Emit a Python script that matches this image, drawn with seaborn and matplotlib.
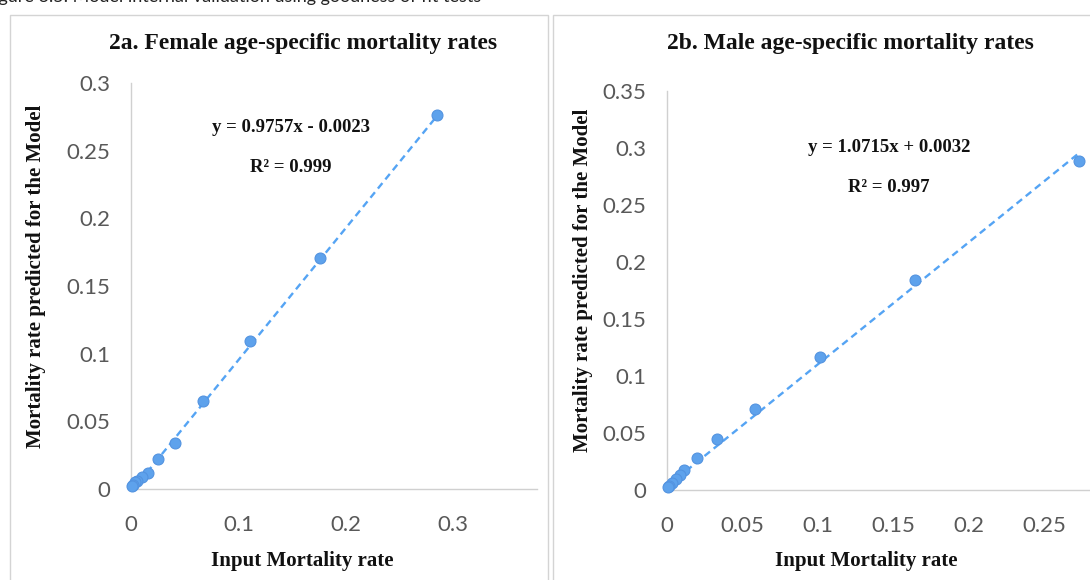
import numpy as np
import pandas as pd
import matplotlib
matplotlib.use("Agg")
import matplotlib.pyplot as plt
from matplotlib.patches import Rectangle
import seaborn as sns

# ---------------- data ----------------
female_input = [0.285, 0.176, 0.111, 0.067, 0.041, 0.025, 0.016, 0.010, 0.006, 0.004, 0.002, 0.001]
female_pred = [0.276, 0.171, 0.109, 0.065, 0.034, 0.022, 0.012, 0.009, 0.006, 0.005, 0.003, 0.002]
male_input = [0.273, 0.164, 0.101, 0.058, 0.033, 0.020, 0.011, 0.0085, 0.006, 0.0035, 0.0015, 0.0005]
male_pred = [0.289, 0.184, 0.117, 0.071, 0.045, 0.028, 0.0175, 0.013, 0.0095, 0.006, 0.0035, 0.0025]
trend_slope = [0.9757, 1.0715]
trend_intercept = [-0.0023, 0.0032]
trend_labels = ["y = 0.9757x - 0.0023", "y = 1.0715x + 0.0032"]
r2_labels = ["R² = 0.999", "R² = 0.997"]
titles = ["2a. Female age-specific mortality rates", "2b. Male age-specific mortality rates"]
xticks_f = [0, 0.1, 0.2, 0.3]
yticks_f = [0, 0.05, 0.1, 0.15, 0.2, 0.25, 0.3]
xticks_m = [0, 0.05, 0.1, 0.15, 0.2, 0.25]
yticks_m = [0, 0.05, 0.1, 0.15, 0.2, 0.25, 0.3, 0.35]
caption = "Figure 3.5. Model internal validation using goodness of fit tests"

# ---------------- style ----------------
sns.set_theme(style="white")
plt.rcParams["font.family"] = ["Lato", "DejaVu Sans"]

W, H = 1090, 580
fig = plt.figure(figsize=(W / 100, H / 100), dpi=100)

def fx(px):
    return px / W

def fy(py):
    return 1 - py / H

# panel borders
for x0, x1 in [(10, 548), (553, 1200)]:
    fig.patches.append(Rectangle((fx(x0), fy(700)), fx(x1 - x0), fy(15) - fy(700),
                                 transform=fig.transFigure, fill=False,
                                 edgecolor="#d4d4d4", linewidth=1.0, zorder=0))

# caption (cut off at top, as in the source page)
fig.text(fx(-16), fy(2), caption, fontsize=13, color="#222222",
         family=["Lato", "DejaVu Sans"], va="baseline", ha="left")

marker_col = "#5ea2ec"
edge_col = "#5393e0"
line_col = "#55a4f4"
serif = ["Liberation Serif", "DejaVu Serif"]

panels = [
    dict(x=female_input, y=female_pred, rect=(131, 83, 537, 489), xlim=(0, 0.378), ylim=(0, 0.3),
         xt=xticks_f, yt=yticks_f, title_xy=(303, 44), eq_xy=(291, 127), r2_xy=(291, 168),
         ylab_x=36, xlab_xy=(302, 561)),
    dict(x=male_input, y=male_pred, rect=(667, 91, 1090, 490), xlim=(0, 0.2801), ylim=(0, 0.35),
         xt=xticks_m, yt=yticks_m, title_xy=(850, 44), eq_xy=(889, 147), r2_xy=(889, 188),
         ylab_x=583, xlab_xy=(866, 561)),
]

for i, p in enumerate(panels):
    l, t, r, b = p["rect"]
    ax = fig.add_axes([fx(l), fy(b), fx(r - l), fy(t) - fy(b)])
    df = pd.DataFrame({"x": p["x"], "y": p["y"]})
    xs = np.array([min(p["x"]), max(p["x"])])
    tl = pd.DataFrame({"x": xs, "y": trend_slope[i] * xs + trend_intercept[i]})
    sns.lineplot(data=tl, x="x", y="y", ax=ax, color=line_col, linewidth=1.7,
                 linestyle=(0, (3, 2)), zorder=3)
    sns.scatterplot(data=df, x="x", y="y", ax=ax, color=marker_col, edgecolor=edge_col,
                    linewidth=0.8, s=62, zorder=4, clip_on=False)
    ax.set_xlim(*p["xlim"])
    ax.set_ylim(*p["ylim"])
    ax.set_xticks(p["xt"])
    ax.set_yticks(p["yt"])
    ax.set_xticklabels([f"{v:g}" for v in p["xt"]])
    ax.set_yticklabels([f"{v:g}" for v in p["yt"]])
    ax.tick_params(axis="both", length=0, labelsize=16, labelcolor="#595959")
    ax.tick_params(axis="x", pad=19)
    ax.tick_params(axis="y", pad=15)
    for s in ["top", "right"]:
        ax.spines[s].set_visible(False)
    for s in ["left", "bottom"]:
        ax.spines[s].set_color("#d0d0d0")
        ax.spines[s].set_linewidth(1.0)
    ax.set_xlabel("")
    ax.set_ylabel("")
    ax.patch.set_alpha(0)

    fig.text(fx(p["title_xy"][0]), fy(p["title_xy"][1]), titles[i], family=serif,
             fontweight="bold", fontsize=17, ha="center", va="center", color="#111111")
    fig.text(fx(p["eq_xy"][0]), fy(p["eq_xy"][1]), trend_labels[i], family=serif,
             fontweight="bold", fontsize=13.5, ha="center", va="center", color="#111111")
    fig.text(fx(p["r2_xy"][0]), fy(p["r2_xy"][1]), r2_labels[i], family=serif,
             fontweight="bold", fontsize=13.5, ha="center", va="center", color="#111111")
    fig.text(fx(p["ylab_x"]), fy((t + b) / 2 - 10), "Mortality rate predicted for the Model",
             family=serif, fontweight="bold", fontsize=15, rotation=90,
             ha="center", va="center", color="#111111")
    fig.text(fx(p["xlab_xy"][0]), fy(p["xlab_xy"][1]), "Input Mortality rate", family=serif,
             fontweight="bold", fontsize=15, ha="center", va="center", color="#111111")

fig.savefig("out.png", dpi=100)
